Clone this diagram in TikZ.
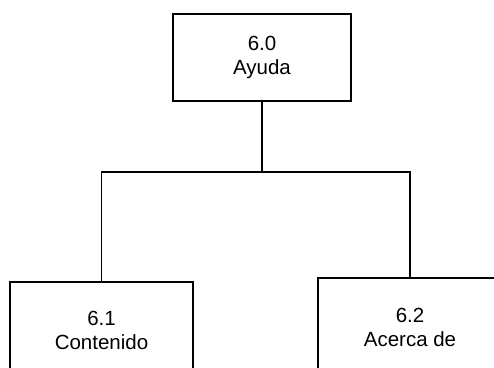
\documentclass[tikz,border=0pt]{standalone}
\usepackage{fontspec}
\setmainfont{Liberation Sans}
\begin{document}
\begin{tikzpicture}[x=1pt,y=-1pt,
  box/.style={draw=black,line width=1.2pt,rectangle,inner sep=0pt,align=center,
    font=\fontsize{20.5}{24}\selectfont},
  conn/.style={draw=black,line width=1.6pt}]
\useasboundingbox (0,0) rectangle (494,367);
\clip (0,0) rectangle (494,367);
\node[box,minimum width=178pt,minimum height=87pt] (top) at (262,57.5) {6.0\\Ayuda};
\node[box,minimum width=183pt,minimum height=96pt] (left) at (101.5,330) {6.1\\Contenido};
\node[box,minimum width=184pt,minimum height=98pt] (right) at (410,327) {6.2\\Acerca de};
\coordinate (j) at (262,172);
\draw[conn] (top.south) -- (j);
\draw[conn] (left.north) |- (j) -| (right.north);
\end{tikzpicture}
\end{document}
